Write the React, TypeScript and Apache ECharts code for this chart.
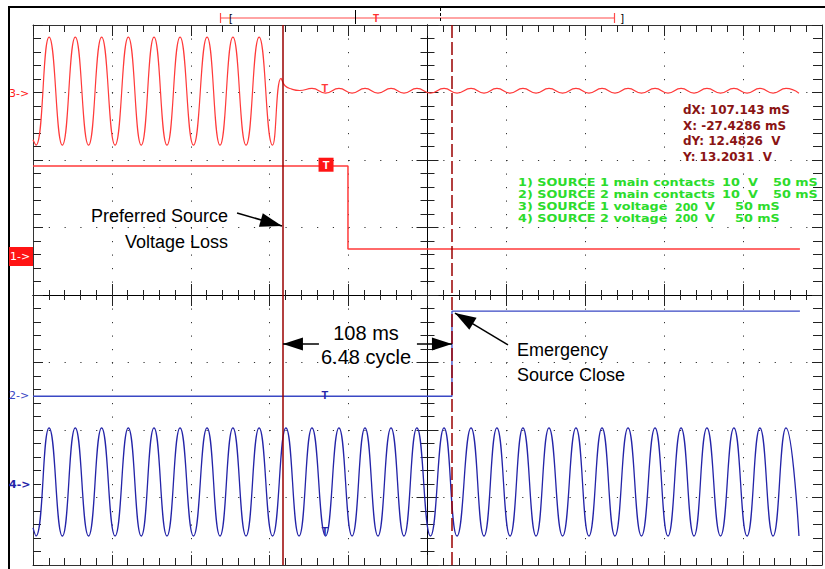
import React, { useEffect, useRef } from "react";
import * as echarts from "echarts";

// ---- data (time in ms, value in screen divisions) ----
const X_MIN = -250;
const X_MAX = 250;
const X_STEP = 50; // 50 ms / div
const Y_MIN = -4;
const Y_MAX = 4;

// 60 Hz crest / trough instants (ms)
const cyclePeaks = [-239.8, -223.2, -206.5, -189.6, -173.3, -156.8, -139.7, -123.3, -106.7, -89.7, -73.2, -56.1, -39.6, -23.1, -6.7, 10.5, 27.6, 44.0, 60.5, 77.0, 94.1, 110.6, 127.1, 144.2, 160.7, 177.1, 194.2, 210.7, 227.2];
const cycleTroughs = [-248.1, -231.4, -214.8, -198.0, -181.4, -165.1, -148.3, -131.5, -115.0, -98.2, -81.4, -64.6, -47.8, -31.4, -14.9, 1.9, 18.7, 35.8, 52.3, 68.8, 85.6, 102.3, 118.8, 135.6, 152.4, 168.9, 185.7, 202.5, 219.0, 235.4];

// channel 3: SOURCE 1 voltage
const ch3Levels = { peak: 3.82, trough: 2.22, start: 2.3 };
const ch3LossTimes = [-92.8, -90.3, -86.0, -81.0];
const ch3LossValues = [3.21, 3.1, 3.05, 3.03];
const ch3Ripple = { peak: 3.06, trough: 2.99 };
const ch3LossAt = -96;
const ch3RippleFrom = -76;

// channel 4: SOURCE 2 voltage
const ch4Levels = { peak: -1.97, trough: -3.57, start: -3.45 };

// channel 1: SOURCE 1 main contacts
const ch1Times = [-250, -50.4, -50.4, 236];
const ch1Values = [1.91, 1.91, 0.68, 0.68];

// channel 2: SOURCE 2 main contacts
const ch2Times = [-250, 15.5, 15.5, 236];
const ch2Values = [-1.5, -1.5, -0.24, -0.24];

// cursors
const cursorTimes = [-91.6, 15.5];

const cursorReadout = ["dX: 107.143 mS", "X: -27.4286 mS", "dY: 12.4826\u00a0\u00a0V", "Y: 13.2031\u00a0\u00a0V"];
const legendNames = ["1) SOURCE 1 main contacts", "2) SOURCE 2 main contacts", "3) SOURCE 1 voltage", "4) SOURCE 2 voltage"];
const legendScales = ["10", "10", "200", "200"];
const legendUnits = ["V", "V", "V", "V"];
const legendTimebase = ["50 mS", "50 mS", "50 mS", "50 mS"];

const RED = "#ff3a3a";
const BLUE2 = "#3a48c4";
const BLUE4 = "#2424a8";
const CURSOR = "#9a0000";
const READOUT = "#8a1414";
const GREEN = "#2cdc2c";
const SANS = "'Liberation Sans', Arial, sans-serif";
const DV = "'DejaVu Sans', Verdana, sans-serif";

function extrema(peakLevel: number, troughLevel: number, from: number, to: number) {
  const pts: number[][] = [];
  cyclePeaks.forEach((t) => { if (t >= from && t <= to) pts.push([t, peakLevel]); });
  cycleTroughs.forEach((t) => { if (t >= from && t <= to) pts.push([t, troughLevel]); });
  return pts.sort((a, b) => a[0] - b[0]);
}

const ch3Data = [
  [X_MIN, ch3Levels.start],
  ...extrema(ch3Levels.peak, ch3Levels.trough, X_MIN, ch3LossAt),
  ...ch3LossTimes.map((t, i) => [t, ch3LossValues[i]]),
  ...extrema(ch3Ripple.peak, ch3Ripple.trough, ch3RippleFrom, X_MAX),
];
const ch4Data = [[X_MIN, ch4Levels.start], ...extrema(ch4Levels.peak, ch4Levels.trough, X_MIN, X_MAX)];
const ch1Data = ch1Times.map((t, i) => [t, ch1Values[i]]);
const ch2Data = ch2Times.map((t, i) => [t, ch2Values[i]]);

const tickLine = { color: "#222", width: 1 };

function xAxisDef(position: string, onZero: boolean, inside: boolean, major: number, minor: number, split: boolean) {
  return {
    type: "value", min: X_MIN, max: X_MAX, interval: X_STEP, position,
    axisLine: { show: true, onZero, onZeroAxisIndex: onZero ? 0 : undefined, lineStyle: { color: onZero ? "#000" : "#333", width: 1 } },
    axisTick: { show: true, inside, length: major, lineStyle: tickLine },
    minorTick: { show: true, splitNumber: 5, length: minor, lineStyle: tickLine },
    axisLabel: { show: false },
    splitLine: { show: split, lineStyle: { color: "#333", width: 1, type: [1.2, 12.3] } },
  };
}
function yAxisDef(position: string, onZero: boolean, inside: boolean, major: number, minor: number, split: boolean) {
  return {
    type: "value", min: Y_MIN, max: Y_MAX, interval: 1, position,
    axisLine: { show: true, onZero, onZeroAxisIndex: onZero ? 0 : undefined, lineStyle: { color: onZero ? "#000" : "#333", width: 1 } },
    axisTick: { show: true, inside, length: major, lineStyle: tickLine },
    minorTick: { show: true, splitNumber: 5, length: minor, lineStyle: tickLine },
    axisLabel: { show: false },
    splitLine: { show: split, lineStyle: { color: "#333", width: 1, type: [1.2, 14.58] } },
  };
}

function txt(x: number, y: number, text: string, font: string, fill: string, align = "left", vAlign = "middle", scaleX = 1) {
  return {
    type: "text", x, y, scaleX, silent: true, z: 10,
    style: { text, font, fill, textAlign: align, align, textVerticalAlign: vAlign, verticalAlign: vAlign },
  };
}
function seg(x1: number, y1: number, x2: number, y2: number, stroke: string, lineWidth = 1, lineDash?: number[]) {
  return { type: "line", silent: true, z: 10, shape: { x1, y1, x2, y2 }, style: { stroke, lineWidth, lineDash } };
}

function arrow(from: number[], to: number[], head: number[]) {
  return [
    { coord: from, symbol: "none", lineStyle: { color: "#000", width: 1.5, type: "solid" } },
    { coord: to, symbol: "triangle", symbolSize: head, symbolOffset: [0, head[1] / 2], lineStyle: { color: "#000", width: 1.5, type: "solid" } },
  ];
}

const legendRowsY = [183, 195, 207, 218.5];
const legendGraphics: any[] = [];
legendNames.forEach((name, i) => {
  const f = `bold 10px ${DV}`;
  const sx = 1.28;
  const contacts = i < 2;
  legendGraphics.push(txt(518, legendRowsY[i], name, f, GREEN, "left", "middle", sx));
  legendGraphics.push(txt(contacts ? 722 : 675, legendRowsY[i], legendScales[i], f, GREEN, "left", "middle", contacts ? sx : 1.1));
  legendGraphics.push(txt(contacts ? 748 : 705, legendRowsY[i], legendUnits[i], f, GREEN, "left", "middle", sx));
  legendGraphics.push(txt(contacts ? 773 : 735, legendRowsY[i], legendTimebase[i], f, GREEN, "left", "middle", sx));
});

const option: any = {
  animation: false,
  backgroundColor: "#fff",
  grid: { left: 33, top: 25, width: 789, height: 540, show: false },
  xAxis: [
    xAxisDef("bottom", false, true, 10, 7, true),
    xAxisDef("top", false, true, 11, 7, false),
    xAxisDef("bottom", true, false, 11, 5, false),
    xAxisDef("top", true, false, 11, 5, false),
  ],
  yAxis: [
    yAxisDef("left", false, true, 10, 8, true),
    yAxisDef("right", false, true, 10, 9, false),
    yAxisDef("left", true, false, 11, 7, false),
    yAxisDef("right", true, false, 11, 7, false),
  ],
  series: [
    {
      name: "ch3", type: "line", data: ch3Data, smooth: 0.5, symbol: "none", showSymbol: false,
      lineStyle: { color: RED, width: 1.2 }, z: 3,
      markPoint: {
        silent: true, symbol: "rect", symbolSize: [1, 1], itemStyle: { color: "rgba(0,0,0,0)" },
        label: { show: true, position: "inside", formatter: "T", color: RED, fontWeight: "bold", fontSize: 11, fontFamily: SANS },
        data: [{ coord: [-65, 3.07] }],
      },
    },
    {
      name: "ch1", type: "line", data: ch1Data, symbol: "none", showSymbol: false,
      lineStyle: { color: RED, width: 1.5 }, z: 3,
      markPoint: {
        silent: true, symbol: "rect", symbolSize: [15, 14], itemStyle: { color: "#ff1414" },
        label: { show: true, position: "inside", formatter: "T", color: "#fff", fontWeight: "bold", fontSize: 11, fontFamily: SANS },
        data: [{ coord: [-64.3, 1.93] }],
      },
    },
    {
      name: "ch2", type: "line", data: ch2Data, symbol: "none", showSymbol: false,
      lineStyle: { color: BLUE2, width: 1.3 }, z: 3,
      markPoint: {
        silent: true, symbol: "rect", symbolSize: [1, 1], itemStyle: { color: "rgba(0,0,0,0)" },
        label: { show: true, position: "inside", formatter: "T", color: BLUE4, fontWeight: "bold", fontSize: 11, fontFamily: SANS },
        data: [{ coord: [-65, -1.48] }],
      },
      markLine: {
        silent: true, symbol: ["none", "none"], label: { show: false }, animation: false,
        data: [
          { xAxis: cursorTimes[0], lineStyle: { color: CURSOR, width: 1.5, type: "solid" } },
          { xAxis: cursorTimes[1], lineStyle: { color: CURSOR, width: 1.5, type: [13, 4] } },
          arrow([-120.7, 1.215], [-92.2, 1.022], [14, 22]),
          arrow([-68.8, -0.726], [cursorTimes[0], -0.726], [13, 20]),
          arrow([-6.7, -0.726], [cursorTimes[1], -0.726], [13, 20]),
          arrow([51.0, -0.74], [17.4, -0.267], [14, 21]),
        ],
      },
    },
    {
      name: "ch4", type: "line", data: ch4Data, smooth: 0.5, symbol: "none", showSymbol: false,
      lineStyle: { color: BLUE4, width: 1.3 }, z: 3,
      markPoint: {
        silent: true, symbol: "rect", symbolSize: [1, 1], itemStyle: { color: "rgba(0,0,0,0)" },
        label: { show: true, position: "inside", formatter: "T", color: BLUE4, fontWeight: "bold", fontSize: 11, fontFamily: SANS },
        data: [{ coord: [-65, -3.5] }],
      },
    },
  ],
  graphic: [
    { type: "rect", silent: true, z: 10, shape: { x: 9, y: 7, width: 840, height: 600 }, style: { fill: "none", stroke: "#000", lineWidth: 2 } },
    // record window bar
    seg(220, 18, 614, 18, "#ff4a4a", 1.2),
    seg(220.5, 13, 220.5, 23, "#ff4a4a", 1.2),
    seg(614.5, 13, 614.5, 23, "#ff4a4a", 1.2),
    txt(229, 18, "[", `11px ${SANS}`, "#000"),
    seg(355.5, 10, 355.5, 24, "#000", 1),
    txt(376, 18, "T", `bold 10px ${SANS}`, "#ff3030", "center"),
    seg(440.5, 8, 440.5, 23, "#000", 1, [3, 2]),
    txt(621, 18, "]", `11px ${SANS}`, "#000"),
    // channel markers
    txt(9, 93, "3->", `11px ${DV}`, "#ff1a1a"),
    { type: "rect", silent: true, z: 10, shape: { x: 9, y: 247, width: 24, height: 19 }, style: { fill: "#ff1414" } },
    txt(10, 256.5, "1->", `11px ${DV}`, "#fff"),
    txt(9, 395, "2->", `11px ${DV}`, BLUE2),
    txt(9, 484, "4->", `bold 11px ${DV}`, BLUE4),
    // cursor readout
    ...cursorReadout.map((s, i) => txt(683, [110, 125.5, 141, 156.5][i], s, `bold 12px ${DV}`, READOUT)),
    // legend
    ...legendGraphics,
    // annotations
    txt(228, 216, "Preferred Source", `18px ${SANS}`, "#000", "right"),
    txt(228, 242, "Voltage Loss", `18px ${SANS}`, "#000", "right"),
    txt(366, 333, "108 ms", `20px ${SANS}`, "#000", "center"),
    txt(366, 357, "6.48 cycle", `20px ${SANS}`, "#000", "center"),
    txt(517, 350, "Emergency", `18px ${SANS}`, "#000"),
    txt(517, 375, "Source Close", `18px ${SANS}`, "#000"),
  ],
};

export default function App() {
  const ref = useRef<HTMLDivElement>(null);
  useEffect(() => {
    const chart = echarts.init(ref.current!, null, { renderer: "svg" });
    chart.setOption(option);
    return () => chart.dispose();
  }, []);
  return <div ref={ref} style={{ position: "absolute", left: 0, top: 0, width: 825, height: 569, background: "#fff" }} />;
}
